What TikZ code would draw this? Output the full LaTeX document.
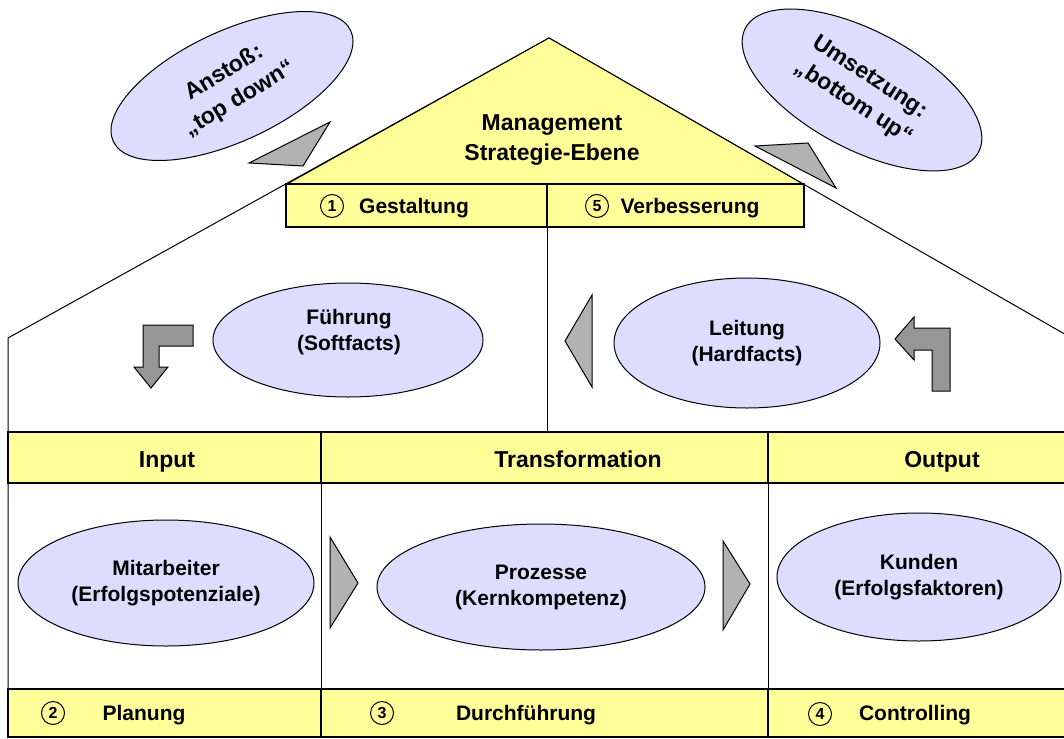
\documentclass[tikz,border=0pt]{standalone}
\usepackage{fontspec}
\setmainfont{Liberation Sans}
\usetikzlibrary{shapes.geometric}

\definecolor{roofyellow}{HTML}{FFFF99}
\definecolor{bubble}{HTML}{DDDDFF}
\definecolor{wedge}{HTML}{B2B2B2}
\definecolor{bent}{HTML}{969696}

\tikzset{
  oval/.style={ellipse, draw, fill=bubble, inner sep=0pt, align=center,
    font=\fontsize{21}{26}\selectfont\bfseries},
  cloud/.style={ellipse, draw, fill=bubble, inner sep=0pt,
    font=\fontsize{23}{30}\selectfont\bfseries},
  band/.style={draw, fill=roofyellow, line width=1.2pt},
  num/.style={circle, draw, inner sep=0pt, minimum size=23pt,
    font=\fontsize{16}{16}\selectfont\bfseries},
  lbl/.style={font=\fontsize{21}{26}\selectfont\bfseries, text height=15pt, text depth=0pt},
  head/.style={font=\fontsize{23}{30}\selectfont\bfseries, text height=16.5pt, text depth=0pt},
  title/.style={font=\fontsize{23}{30}\selectfont\bfseries, align=center},
}

\begin{document}
\begin{tikzpicture}[x=1pt, y=-1pt, line width=1pt]

\useasboundingbox (0,0) rectangle (1064,738);

\coordinate (A) at (549,38);
\coordinate (B) at (8,338);
\coordinate (C) at (1075,340);
\coordinate (D) at (287,184);
\coordinate (E) at (803,184);
\coordinate (F) at (8,737);
\coordinate (G) at (547,227);
\coordinate (H) at (547,432);

\draw (F) -- (B) -- (A) -- (C);
\draw [fill=roofyellow] (D) -- (A) -- (E) -- cycle;
\draw [band] (286,184) rectangle (547,227);
\draw [band] (547,184) rectangle (804,227);
\draw (G) -- (H);

\draw [band] (8,432) rectangle (321,483);
\draw [band] (321,432) rectangle (768,483);
\draw [band] (768,432) rectangle (1070,483);
\draw (321,483) -- (321,689);
\draw (768,483) -- (768,689);
\draw [band] (8,689) rectangle (321,737);
\draw [band] (321,689) rectangle (768,737);
\draw [band] (768,689) rectangle (1070,737);

\node [title] (mgmt) at (552,140) {Management\\Strategie-Ebene};

\node [num] (n1) at (332,206) {1};
\node [lbl] (gest) at (414,206) {Gestaltung};
\node [num] (n5) at (597,206) {5};
\node [lbl] (verb) at (690,206) {Verbesserung};

\node [head] (input) at (167,459) {Input};
\node [head] (trans) at (578,459) {Transformation};
\node [head] (output) at (942,459) {Output};

\node [num] (n2) at (53,713) {2};
\node [lbl] (plan) at (144,713) {Planung};
\node [num] (n3) at (382,713) {3};
\node [lbl] (durch) at (526,713) {Durchführung};
\node [num] (n4) at (820,714) {4};
\node [lbl] (contr) at (915,713) {Controlling};

\node [oval, minimum width=270pt, minimum height=114pt] (fuehr) at (348,340) {};
\node [oval, draw=none, fill=none] (fuehrtext) at (349,332) {Führung\\(Softfacts)};
\node [oval, minimum width=266pt, minimum height=130pt] (leit) at (747,343) {Leitung\\(Hardfacts)};
\node [oval, minimum width=296pt, minimum height=126pt] (mitarb) at (166,583) {Mitarbeiter\\(Erfolgspotenziale)};
\node [oval, minimum width=328pt, minimum height=126pt] (proz) at (541,587) {Prozesse\\(Kernkompetenz)};
\node [oval, minimum width=284pt, minimum height=128pt] (kund) at (919,577) {Kunden\\(Erfolgsfaktoren)};

\node [cloud, rotate=25, minimum width=262pt, minimum height=110pt] (anstoss) at (232,86)
  {\rotatebox{6}{\begin{tabular}{@{}c@{}}Anstoß:\\„top down“\end{tabular}}};
\node [cloud, rotate=-28, minimum width=264pt, minimum height=118pt] (umsetz) at (862,90)
  {\rotatebox{-5}{\begin{tabular}{@{}c@{}}Umsetzung:\\„bottom up“\end{tabular}}};

\draw [fill=wedge] (249,163) -- (330,122) -- (303,166) -- cycle;
\draw [fill=wedge] (755,146) -- (808,143) -- (836,188) -- cycle;

\draw [fill=wedge] (592,295) -- (565,341) -- (592,387) -- cycle;
\draw [fill=wedge] (330,537) -- (358,583) -- (330,628) -- cycle;
\draw [fill=wedge] (723,541) -- (750,584) -- (723,630) -- cycle;

\draw [fill=bent] (193,325) -- (143,325) -- (143,367) -- (134,367) -- (151,388)
  -- (168,367) -- (159,367) -- (159,346) -- (193,346) -- cycle;
\draw [fill=bent] (950,391) -- (932,391) -- (932,350) -- (914,350) -- (914,360)
  -- (895,339) -- (914,317) -- (914,328) -- (950,328) -- cycle;

\end{tikzpicture}
\end{document}
